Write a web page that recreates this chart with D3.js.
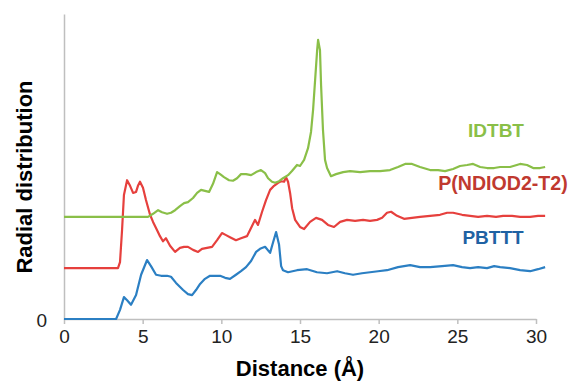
<!DOCTYPE html>
<html>
<head>
<meta charset="utf-8">
<script src="https://cdn.jsdelivr.net/npm/d3@7"></script>
<style>
  body { margin: 0; background: #fff; }
  svg { font-family: "Liberation Sans", Arial, sans-serif; }
</style>
</head>
<body>
<div class="vis-holder"></div>
<script>
// radial distribution curves (offset stacked: 0, 1, 2)
var xTicks = [0, 5, 10, 15, 20, 25, 30];

var pbtttX = [0, 3.31, 3.56, 3.81, 4.01, 4.26, 4.58, 4.90, 5.28, 5.53, 5.85, 6.17, 6.55, 6.80, 7.12, 7.57, 7.88, 8.14, 8.39, 8.65, 8.96, 9.28, 9.60, 9.92, 10.24, 10.55, 10.93, 11.25, 11.57, 11.89, 12.21, 12.46, 12.78, 13.10, 13.29, 13.48, 13.67, 13.80, 13.92, 14.24, 14.81, 15.45, 16.08, 16.72, 17.36, 17.86, 18.37, 18.94, 19.45, 19.96, 20.53, 21.23, 22.00, 22.63, 23.27, 24.03, 24.73, 25.30, 25.81, 26.32, 26.89, 27.34, 27.72, 28.35, 28.99, 29.63, 30.13, 30.58];
var pbtttY = [0, 0, 0.18, 0.43, 0.37, 0.28, 0.47, 0.87, 1.16, 1.04, 0.87, 0.85, 0.85, 0.83, 0.71, 0.57, 0.49, 0.47, 0.57, 0.69, 0.79, 0.85, 0.85, 0.85, 0.81, 0.79, 0.87, 0.94, 1.02, 1.14, 1.32, 1.38, 1.42, 1.30, 1.51, 1.71, 1.46, 1.04, 0.96, 0.92, 0.96, 0.98, 0.92, 0.90, 0.94, 0.90, 0.87, 0.90, 0.92, 0.94, 0.96, 1.02, 1.06, 1.02, 1.02, 1.04, 1.06, 1.02, 1.00, 1.02, 1.00, 1.04, 1.02, 1.00, 0.96, 0.94, 0.98, 1.02];

var ndiX = [0, 3.43, 3.56, 3.69, 3.81, 4.01, 4.20, 4.39, 4.58, 4.70, 4.83, 5.02, 5.21, 5.47, 5.66, 5.91, 6.10, 6.29, 6.48, 6.74, 7.06, 7.37, 7.63, 7.88, 8.20, 8.52, 8.77, 9.09, 9.41, 9.73, 10.04, 10.30, 10.55, 10.93, 11.25, 11.63, 11.95, 12.14, 12.33, 12.59, 12.84, 13.10, 13.35, 13.61, 13.80, 13.99, 14.11, 14.24, 14.37, 14.50, 14.69, 15.00, 15.26, 15.64, 16.02, 16.40, 16.78, 17.16, 17.55, 17.99, 18.50, 19.01, 19.45, 19.90, 20.22, 20.53, 20.79, 21.17, 21.61, 22.12, 22.63, 23.27, 23.90, 24.35, 24.73, 25.30, 25.81, 26.32, 26.89, 27.46, 27.91, 28.48, 28.99, 29.63, 30.13, 30.58];
var ndiY = [1.00, 1.00, 1.12, 1.75, 2.44, 2.73, 2.62, 2.48, 2.50, 2.62, 2.70, 2.58, 2.34, 2.05, 1.91, 1.75, 1.63, 1.53, 1.59, 1.44, 1.32, 1.40, 1.42, 1.42, 1.36, 1.32, 1.38, 1.40, 1.42, 1.55, 1.69, 1.65, 1.61, 1.55, 1.59, 1.63, 1.83, 1.95, 1.85, 2.11, 2.34, 2.54, 2.62, 2.68, 2.71, 2.70, 2.79, 2.70, 2.48, 2.18, 1.95, 1.81, 1.77, 1.91, 1.99, 1.95, 1.85, 1.81, 1.91, 1.95, 1.93, 1.95, 1.93, 1.95, 1.99, 2.09, 2.11, 2.03, 1.97, 1.99, 2.01, 2.03, 2.05, 2.09, 2.09, 2.05, 2.03, 2.01, 2.03, 2.01, 2.03, 2.03, 2.01, 2.01, 2.03, 2.03];

var idtbtX = [0, 5.34, 5.66, 5.98, 6.23, 6.55, 6.80, 7.06, 7.37, 7.63, 7.88, 8.20, 8.46, 8.71, 8.96, 9.22, 9.47, 9.73, 9.92, 10.17, 10.49, 10.74, 11.00, 11.25, 11.57, 11.89, 12.21, 12.52, 12.78, 12.97, 13.22, 13.42, 13.67, 13.92, 14.24, 14.49, 14.81, 15.00, 15.26, 15.51, 15.70, 15.83, 15.96, 16.09, 16.15, 16.27, 16.34, 16.46, 16.59, 16.72, 16.97, 17.29, 17.74, 18.18, 18.82, 19.45, 20.09, 20.72, 21.23, 21.68, 22.12, 22.63, 23.27, 23.78, 24.22, 24.73, 25.17, 25.62, 26.00, 26.45, 26.89, 27.34, 27.72, 28.35, 28.99, 29.43, 29.82, 30.26, 30.58];
var idtbtY = [2.01, 2.01, 2.07, 2.14, 2.10, 2.07, 2.09, 2.14, 2.22, 2.28, 2.30, 2.38, 2.48, 2.54, 2.52, 2.50, 2.66, 2.89, 2.85, 2.79, 2.73, 2.72, 2.77, 2.85, 2.85, 2.83, 2.89, 2.93, 2.87, 2.77, 2.70, 2.68, 2.71, 2.77, 2.83, 2.91, 3.03, 3.01, 3.13, 3.36, 3.68, 4.11, 4.70, 5.29, 5.49, 5.29, 4.60, 3.72, 3.13, 2.97, 2.81, 2.85, 2.89, 2.91, 2.89, 2.91, 2.91, 2.93, 2.99, 3.05, 3.05, 2.99, 2.93, 2.93, 2.91, 2.95, 3.01, 3.03, 3.05, 2.99, 2.97, 2.97, 2.99, 2.99, 3.05, 3.03, 2.97, 2.97, 2.99];

var seriesNames = ["PBTTT", "P(NDIOD2-T2)", "IDTBT"];
var lineColors = ["#2b7fc3", "#e6403d", "#8abf48"];
var labelColors = ["#1f62a3", "#c0392f", "#8abf48"];

function zip(xs, ys) {
  return xs.map(function(x, i){ return {x: x, y: ys[i]}; });
}
var series = [zip(pbtttX, pbtttY), zip(ndiX, ndiY), zip(idtbtX, idtbtY)];

var width = 573, height = 381;
var margin = {top: 14, bottom: 62, left: 64, right: 37};

var svg = d3.select(".vis-holder")
  .append("svg")
  .attr("width", width)
  .attr("height", height);

var xScale = d3.scaleLinear()
  .domain([0, 30])
  .range([margin.left, width - margin.right]);

var yScale = d3.scaleLinear()
  .domain([0, 6])
  .range([height - margin.bottom, margin.top]);

// axes
var xAxis = d3.axisBottom(xScale)
  .tickValues(xTicks)
  .tickSize(5)
  .tickSizeOuter(0)
  .tickPadding(6)
  .tickFormat(d3.format("d"));

var gx = svg.append("g")
  .attr("class", "x axis")
  .attr("transform", "translate(0," + yScale(0) + ")")
  .call(xAxis);
gx.select(".domain").attr("stroke", "#bfbfbf").attr("stroke-width", 1.5);
gx.selectAll(".tick line").attr("stroke", "#bfbfbf").attr("stroke-width", 1.5);
gx.selectAll(".tick text").attr("font-size", 19).attr("fill", "#222")
  .attr("font-family", "Liberation Sans, Arial, sans-serif");

var yAxis = d3.axisLeft(yScale)
  .tickValues([0])
  .tickSize(0)
  .tickPadding(17)
  .tickFormat(d3.format("d"));

var gy = svg.append("g")
  .attr("class", "y axis")
  .attr("transform", "translate(" + xScale(0) + ",0)")
  .call(yAxis);
gy.select(".domain").attr("stroke", "#bfbfbf").attr("stroke-width", 1.5);
gy.selectAll(".tick text").attr("font-size", 19).attr("fill", "#222")
  .attr("dy", "0.4em")
  .attr("font-family", "Liberation Sans, Arial, sans-serif");

// lines
var line = d3.line()
  .x(function(d){ return xScale(d.x); })
  .y(function(d){ return yScale(d.y); });

svg.selectAll(".dataLine")
  .data(series)
  .enter()
  .append("path")
  .attr("class", "dataLine")
  .attr("d", line)
  .attr("fill", "none")
  .attr("stroke", function(d, i){ return lineColors[i]; })
  .attr("stroke-width", 2.2)
  .attr("stroke-linejoin", "round");

// series labels
var labelPos = [{x: 493, y: 244}, {x: 503, y: 190}, {x: 496, y: 137}];
svg.selectAll(".seriesLabel")
  .data(seriesNames)
  .enter()
  .append("text")
  .attr("class", "seriesLabel")
  .attr("x", function(d, i){ return labelPos[i].x; })
  .attr("y", function(d, i){ return labelPos[i].y; })
  .attr("text-anchor", "middle")
  .attr("font-size", function(d, i){ return i === 1 ? 19.6 : 19; })
  .attr("font-weight", "bold")
  .attr("fill", function(d, i){ return labelColors[i]; })
  .text(function(d){ return d; });

// axis titles
svg.append("text")
  .attr("transform", "translate(" + 300 + "," + 376 + ")")
  .attr("text-anchor", "middle")
  .attr("font-size", 22)
  .attr("font-weight", "bold")
  .text("Distance (Å)");

svg.append("text")
  .attr("transform", "translate(32," + 177 + ") rotate(-90)")
  .attr("text-anchor", "middle")
  .attr("font-size", 22)
  .attr("font-weight", "bold")
  .text("Radial distribution");
</script>
</body>
</html>
